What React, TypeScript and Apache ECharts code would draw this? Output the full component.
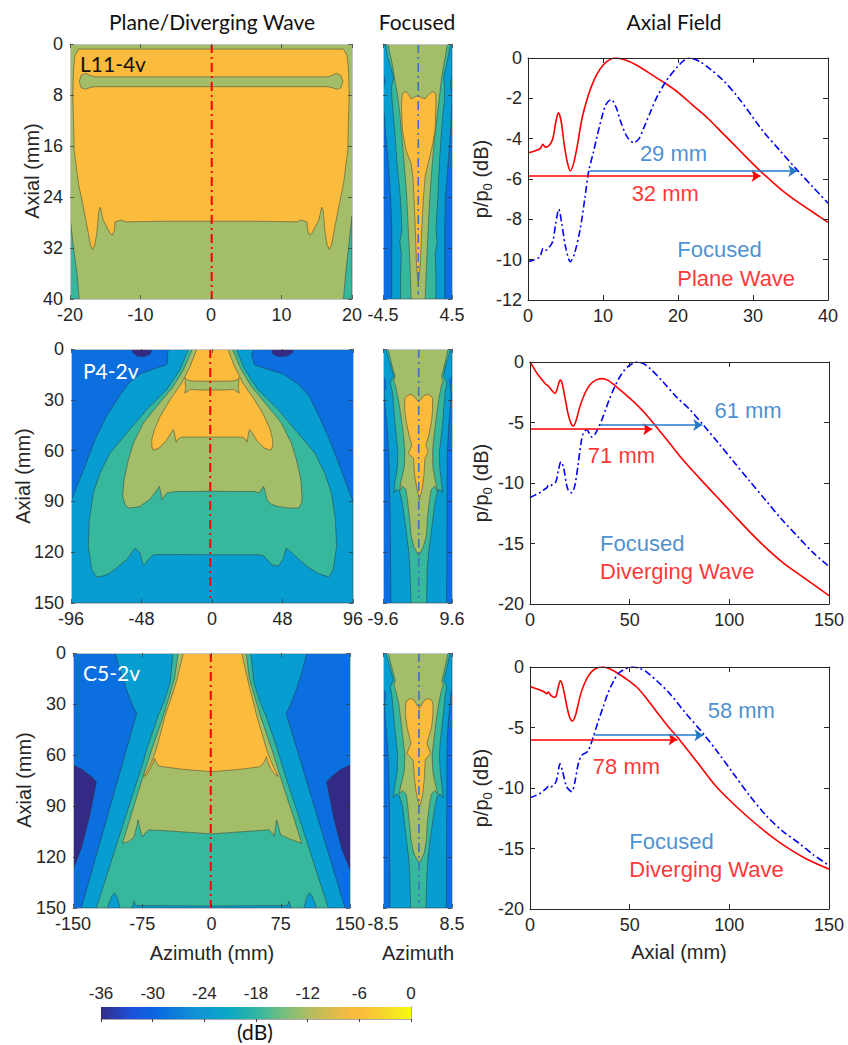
import React, { useEffect, useRef } from 'react';
import * as echarts from 'echarts';

// ---------------- colours of the filled contour levels ----------------
const C_NAVY = '#332a86';
const C_BLUE = '#0b6fe0';
const C_LBLUE = '#089dd0';
const C_TEAL = '#37b89d';
const C_OLIVE = '#a4bd69';
const C_ORANGE = '#fbbb3c';

// ---------------- row 1 : L11-4v plane wave (azimuth -20..20, axial 0..40) ----------------
const l11TealLeft = [[-20, 27], [-19.5, 32], [-19, 36], [-18.7, 40], [-20, 40]];
const l11TealRight = [[20, 27], [19.5, 32], [19.1, 36], [18.8, 40], [20, 40]];
const l11Orange = [
  [-18.8, 0.8], [18.8, 0.8], [19.3, 1.8], [19.5, 4], [19.6, 8], [19.5, 12], [19.4, 16.7], [18.8, 21.9],
  [18.1, 25.6], [17.4, 29.7], [17.1, 31.5], [16.8, 32.2], [16.5, 31.6], [16.2, 29.7], [15.9, 26.1], [15.7, 25.6],
  [15.3, 27.6], [14.3, 29.7], [14, 30], [13.7, 29.2], [13.6, 27.9], [12.7, 27.6], [12.2, 27.9], [6, 27.8],
  [0, 27.8], [-6, 27.8], [-12.2, 27.9], [-12.7, 27.6], [-13.6, 27.9], [-13.7, 29.2], [-14, 30], [-14.3, 29.7],
  [-15.3, 27.6], [-15.7, 25.6], [-15.9, 26.1], [-16.2, 29.7], [-16.5, 31.6], [-16.8, 32.2], [-17.1, 31.5],
  [-17.4, 29.7], [-18.1, 25.6], [-18.8, 21.9], [-19.4, 16.7], [-19.5, 12], [-19.6, 8], [-19.5, 4], [-19.3, 1.8]
];
const l11Band = [
  [-18.7, 5.9], [-18.4, 4.9], [-17.8, 4.6], [-17.2, 4.9], [-16.6, 5.15], [16.6, 5.15], [17.2, 4.9], [17.8, 4.6],
  [18.4, 4.9], [18.7, 5.9], [18.4, 6.9], [17.8, 7.1], [17.2, 6.85], [16.6, 6.7], [-16.6, 6.7], [-17.2, 6.85],
  [-17.8, 7.1], [-18.4, 6.9]
];

// ---------------- row 1 : L11-4v focused (azimuth -4.5..4.5) ----------------
const fL11LBlue = [
  [-4.5, 0], [4.5, 0], [4.5, 5], [4.3, 6.5], [4.5, 8], [4.35, 13], [4.0, 18.75], [3.65, 24], [3.55, 29], [3.55, 40],
  [-3.35, 40], [-3.35, 29], [-3.5, 24], [-3.8, 18.75], [-4.2, 13.5], [-4.4, 10], [-4.5, 7.1], [-4.2, 5.8], [-4.5, 4.6]
];
const fL11Teal = [
  [-4.2, 0], [-3.9, 2], [-3.5, 3.6], [-3.1, 5.2], [-3.4, 6.8], [-3.3, 9], [-3.15, 11], [-2.95, 14], [-2.66, 18.75],
  [-2.4, 22], [-2.25, 24], [-2.1, 27], [-2.05, 29.2], [-2.3, 31], [-2.1, 33], [-2.2, 36], [-2.2, 40],
  [2.4, 40], [2.4, 36], [2.3, 33], [2.55, 31], [2.4, 29.2], [2.5, 27], [2.65, 24], [2.85, 18.75], [3.1, 14],
  [3.3, 11], [3.5, 9], [3.55, 6.8], [3.4, 5.2], [3.7, 3.6], [4.0, 2], [4.3, 0]
];
const fL11Olive = [
  [-3.85, 0], [-3.6, 1.5], [-3.3, 3.1], [-2.95, 5.7], [-2.6, 8], [-2.3, 10.9], [-2.05, 14.5], [-1.74, 18.75],
  [-1.4, 24], [-1.2, 29.2], [-1.0, 34], [-0.83, 40], [1.0, 40], [1.2, 34], [1.38, 29.2], [1.6, 24], [1.93, 18.75],
  [2.25, 14.5], [2.6, 10.9], [2.9, 8], [3.1, 5.7], [3.45, 3.1], [3.7, 1.5], [3.9, 0]
];
const fL11Orange = [
  [-1.97, 7.8], [-1.52, 7.45], [-1.1, 8.0], [-0.83, 8.6], [-0.4, 8.3], [0.09, 8.1], [0.5, 8.4], [1.0, 8.6],
  [1.4, 8.0], [1.93, 7.45], [2.39, 7.8], [2.4, 9.4], [2.3, 13.5], [1.93, 16], [1.38, 18.75], [1.0, 20.8],
  [0.78, 24], [0.55, 29.2], [0.37, 34.4], [0.09, 37.8], [-0.14, 34.4], [-0.28, 29.2], [-0.46, 24], [-0.6, 20.8],
  [-0.83, 18.75], [-1.5, 16.7], [-1.97, 13.5], [-2.1, 9.4]
];

// ---------------- row 2 : P4-2v diverging wave (azimuth -96..96, axial 0..150) ----------------
const p4NavyLeft = [[-54.7, 0], [-54, 2], [-51, 4.2], [-46, 4.5], [-42, 3], [-41, 0]];
const p4NavyRight = [[40.6, 0], [41.5, 3], [45, 4.5], [51, 4.2], [54.5, 2.5], [55.3, 0]];
const p4LBlue = [
  [-29.5, 0], [-30.5, 3.5], [-30, 6.5], [-31, 9.5], [-40, 11.8], [-49, 14.8], [-56, 19.7], [-63, 27.6], [-72, 40],
  [-79.6, 53.5], [-86.5, 69.3], [-92, 81], [-96, 90], [-96, 150], [96, 150], [96, 90], [92, 81], [87, 69.3],
  [80, 53.5], [73, 40], [66, 27.6], [59, 21], [48.5, 14.8], [37.5, 11.8], [29, 9.5], [28, 6.5], [27, 3.5], [28, 0]
];
const p4Teal = [
  [-16, 0], [-21.7, 12.2], [-30.8, 24], [-44.4, 35.8], [-58, 49.6], [-69.4, 61.4], [-76.2, 73.2], [-80.8, 85],
  [-83.5, 100.8], [-84.2, 116.5], [-81.9, 130.3], [-78.5, 134.6], [-74, 134], [-69.4, 132.3], [-58, 124.4],
  [-52.4, 117.5], [-49, 120.5], [-46.7, 128.3], [-43.3, 124.4], [-39.9, 121.5], [-30, 121.3], [0, 121.5],
  [30.5, 121.5], [35, 122], [40.8, 127.4], [45.3, 128.3], [48.7, 123.4], [50.5, 117.5], [54.4, 120.5],
  [64.6, 128.3], [72, 132.5], [79.4, 134.6], [82.5, 130.3], [84.8, 116.5], [84, 100.8], [81.3, 85], [76.7, 73.2],
  [70, 61.4], [58.5, 49.6], [45, 35.8], [31.3, 24], [22.2, 12.2], [16.5, 0]
];
const p4Olive = [
  [-13.3, 0], [-19.4, 12.2], [-26.2, 22], [-37.6, 33.9], [-46.7, 43.7], [-53.5, 55.5], [-56.9, 65.4],
  [-59.9, 77.2], [-60.8, 87], [-59.2, 91.9], [-56.9, 93.9], [-52, 93.5], [-49, 92.9], [-42, 88.5], [-36.5, 82],
  [-35.8, 81.1], [-34.8, 85], [-34.2, 89], [-32.5, 87], [-30.8, 85], [-25, 84.2], [0, 84], [25, 84.2], [28.3, 84],
  [32, 85], [35.1, 81.1], [36.2, 84], [37.4, 89], [40, 91.5], [44.2, 92.9], [52, 93.9], [59, 93.9], [61, 91],
  [61.3, 87], [60.5, 77.2], [57.5, 65.4], [54, 55.5], [47.2, 43.7], [38.1, 33.9], [26.7, 22], [19.9, 12.2], [13.8, 0]
];
const p4Orange = [
  [-10.3, 0], [-14.9, 10.2], [-20.6, 20.1], [-28.5, 29.9], [-35.3, 39.8], [-39.2, 47.6], [-41, 53.5], [-41, 57.5],
  [-39.9, 59.8], [-36, 58.5], [-31, 54], [-27.5, 49], [-26.3, 47.6], [-25.5, 50], [-24.8, 53.5], [-24.4, 55],
  [-23.5, 53.5], [-21.5, 52.2], [-20, 52], [0, 52], [19.5, 52], [21, 52.2], [23, 53.5], [23.8, 55], [24.2, 53.5],
  [24.8, 50], [25.6, 47.6], [27, 49], [30.5, 54], [35.5, 58.5], [40.1, 59.8], [41.3, 57.5], [41.3, 53.5],
  [39.6, 47.6], [35.7, 39.8], [28.9, 29.9], [21, 20.1], [15.3, 10.2], [10.7, 0]
];
const p4Band = [
  [-18.4, 16.9], [-17, 18.2], [-15, 18.8], [-10, 19], [10, 19], [15, 18.8], [17, 18.2], [18.4, 16.9], [18.2, 20],
  [17.8, 22.5], [18.5, 26], [16.5, 25], [14.5, 23.8], [10, 24.2], [-10, 24.2], [-14.5, 23.8], [-16.5, 25],
  [-18.5, 26], [-17.8, 22.5], [-18.2, 20]
];

// ---------------- row 2 : P4-2v focused (azimuth -9.6..9.6) ----------------
const fP4LBlue = [
  [-9.6, 0], [9.6, 0], [9.6, 16], [9.0, 18.5], [9.0, 23], [9.4, 26], [9.1, 35], [8.7, 45], [8.3, 60.7], [8.25, 80],
  [8.2, 100], [8.15, 120], [8.1, 150], [-7.4, 150], [-7.5, 120], [-7.6, 100], [-7.8, 80], [-8.0, 60.7], [-8.5, 45],
  [-9.0, 35], [-9.3, 26], [-8.9, 23], [-8.9, 18.5], [-9.6, 16]
];
const fP4Teal = [
  [-8.8, 0], [-8.0, 6], [-7.2, 11.4], [-6.6, 16], [-7.6, 20], [-7.0, 25], [-6.7, 32], [-6.4, 41], [-5.9, 51],
  [-5.45, 60.7], [-5.6, 70], [-6.2, 78], [-6.6, 85], [-6.0, 83], [-5.0, 84], [-4.3, 90], [-3.6, 100], [-3.0, 110],
  [-2.4, 120], [-2.1, 130], [-1.8, 150], [2.5, 150], [2.7, 130], [3.1, 120], [3.7, 110], [4.3, 100], [4.9, 90],
  [5.6, 84], [6.3, 83], [7.0, 85], [6.6, 78], [6.2, 70], [6.1, 60.7], [6.6, 51], [7.1, 41], [7.4, 32], [7.7, 25],
  [8.2, 20], [7.3, 16], [7.6, 11.4], [8.4, 6], [9.2, 0]
];
const fP4Olive = [
  [-8.2, 0], [-7.5, 6], [-6.9, 11.4], [-6.2, 16], [-6.6, 19], [-6.1, 22], [-5.3, 30], [-4.5, 41], [-3.9, 51],
  [-3.5, 60.7], [-3.7, 70], [-4.6, 78], [-5.0, 84], [-4.2, 81], [-3.2, 83], [-2.75, 90], [-2.2, 100], [-1.8, 110],
  [-1.0, 117], [0.34, 122], [1.6, 117], [2.5, 110], [2.75, 100], [3.3, 90], [3.8, 83], [4.8, 81], [5.6, 84],
  [5.0, 78], [4.3, 70], [4.2, 60.7], [4.6, 51], [5.2, 41], [5.9, 30], [6.6, 22], [7.1, 19], [6.7, 16], [7.3, 11.4],
  [7.9, 6], [8.5, 0]
];
const fP4Orange = [
  [-3.5, 29.2], [-2.8, 27.5], [-2.07, 26.8], [-1.2, 27.5], [0.34, 31.1], [1.8, 27.5], [2.75, 26.8], [3.6, 27.5],
  [4.2, 29.2], [4.2, 35], [4.0, 41], [3.2, 50.8], [2.3, 56.8], [3.0, 60.7], [2.07, 64.6], [1.8, 74.5], [1.3, 82.4],
  [0.53, 89.3], [-0.15, 82.4], [-0.82, 74.5], [-1.1, 64.6], [-2.56, 61.7], [-1.6, 56.8], [-2.36, 50.8],
  [-3.3, 41], [-3.6, 35]
];

// ---------------- row 3 : C5-2v diverging wave (azimuth -150..150, axial 0..150) ----------------
const c5NavyLeft = [[-150, 65.9], [-139.2, 68.8], [-130.1, 72.8], [-124.7, 75.7], [-132, 96], [-141, 115], [-150, 127.5]];
const c5NavyRight = [[150, 65.9], [139.2, 68.8], [130.1, 72.8], [124.7, 75.7], [132, 96], [141, 115], [150, 127.5]];
const c5LBlue = [
  [-104.5, 0], [-99, 10.2], [-91.8, 21.9], [-84.7, 31.8], [-81, 35.5], [-141, 150], [144.6, 150], [80.8, 35.5],
  [84.5, 31.8], [91.5, 21.9], [98.5, 10.2], [103.2, 0]
];
const c5Teal = [
  [-41.6, 0], [-44.9, 17.6], [-51, 28], [-57.9, 37], [-70.2, 57], [-75.6, 67], [-100, 108], [-124.7, 150],
  [-113, 150], [-108, 143], [-105, 141], [-102, 144], [-99, 150], [-86, 150], [-84, 146], [-82, 148.6], [0, 148.8],
  [82, 148.6], [84, 146], [86, 150], [100, 150], [103, 144], [106, 141], [109, 143], [114, 150], [126.5, 150],
  [101.5, 108], [77, 67], [71.5, 57], [59, 37], [52, 28], [46, 17.6], [42.5, 0]
];
const c5Olive = [
  [-36, 0], [-40, 15], [-46, 26], [-52.2, 37], [-64.8, 57], [-72, 69], [-80, 83], [-88, 97], [-96.5, 111.9],
  [-90, 111], [-84, 108.5], [-80.5, 101], [-79.5, 98.2], [-78, 102], [-76, 106.5], [-74.1, 108], [-72, 106],
  [-68, 104], [-50, 104.5], [0, 106.4], [50, 104.5], [62, 104], [66, 106], [68, 108], [69.5, 102], [70.5, 98.2],
  [72, 101], [75, 107], [85, 109.5], [97.6, 111.9], [88.6, 96], [80.5, 83], [72.5, 69], [65.5, 57], [53, 37],
  [47, 26], [41, 15], [37.5, 0]
];
const c5Orange = [
  [-30.5, 0], [-34, 8], [-38.4, 17.6], [-44, 27], [-50.3, 37], [-55, 47], [-60.1, 57], [-64, 63], [-68, 68],
  [-73.4, 72.7], [-70, 71.5], [-66, 68], [-62.5, 63.5], [-61.5, 62], [-60, 64], [-57, 66.5], [-52.4, 66.9],
  [-30, 68.5], [0, 69.8], [30, 68.5], [52.4, 66.9], [56, 65], [58.5, 62.5], [59.6, 61], [61, 64], [64, 68],
  [68, 71], [72.3, 72.7], [68, 68], [64, 63], [59.8, 57], [54.5, 47], [49, 37], [44.5, 27], [40, 17.6], [36, 8],
  [32.8, 0]
];

// ---------------- row 3 : C5-2v focused (azimuth -8.5..8.5) ----------------
const fC5LBlue = [
  [-8.5, 0], [8.5, 0], [8.5, 21], [8.2, 23.5], [8.2, 27], [8.0, 30], [7.6, 40], [7.3, 51], [7.25, 65], [7.2, 90],
  [7.15, 120], [7.1, 150], [-6.8, 150], [-6.85, 120], [-6.9, 90], [-7.1, 65], [-7.5, 51], [-7.9, 40], [-8.2, 30],
  [-7.9, 27], [-7.9, 23.5], [-8.5, 21]
];
const fC5Teal = [
  [-7.8, 0], [-7.1, 6], [-6.4, 11.5], [-5.9, 16], [-6.7, 20], [-6.3, 25], [-6.0, 33], [-5.7, 41.5], [-5.2, 52],
  [-4.9, 60], [-5.0, 70], [-5.6, 78], [-6.0, 85], [-5.3, 83], [-4.5, 84], [-3.7, 90], [-3.2, 100], [-2.7, 110],
  [-2.2, 120], [-1.9, 130], [-1.7, 150], [2.1, 150], [2.3, 130], [2.6, 120], [3.1, 110], [3.7, 100], [4.3, 90],
  [4.9, 84], [5.6, 83], [6.3, 85], [6.0, 78], [5.6, 70], [5.4, 60], [5.6, 52], [6.1, 41.5], [6.5, 33], [6.8, 25],
  [7.2, 20], [6.5, 16], [6.9, 11.5], [7.5, 6], [8.0, 0]
];
const fC5Olive = [
  [-7.2, 0], [-6.6, 6], [-6.0, 11.5], [-5.5, 16], [-5.8, 19], [-5.4, 22], [-4.6, 30], [-4.0, 41.5], [-3.5, 52],
  [-3.1, 60], [-3.3, 70], [-4.1, 78], [-4.5, 83], [-3.7, 81], [-2.8, 83], [-2.4, 90], [-2.0, 100], [-1.6, 110],
  [-0.9, 118], [0.43, 123.6], [1.6, 118], [2.2, 110], [2.4, 100], [2.9, 90], [3.4, 83], [4.3, 81], [5.0, 83],
  [4.5, 78], [3.8, 70], [3.6, 60], [4.0, 52], [4.5, 41.5], [5.2, 30], [5.9, 22], [6.3, 19], [6.0, 16], [6.5, 11.5],
  [7.0, 6], [7.5, 0]
];
const fC5Orange = [
  [-2.9, 29.7], [-2.4, 27.5], [-1.7, 26.8], [-0.9, 27.5], [0.43, 32.7], [1.8, 27.5], [2.8, 26.8], [3.4, 27.5],
  [3.8, 29.7], [3.8, 36], [3.5, 43.4], [2.3, 53.2], [3.2, 59], [1.9, 63], [1.65, 74.7], [1.2, 84.5], [0.52, 90.4],
  [-0.17, 84.5], [-0.7, 74.7], [-1.1, 63], [-2.6, 59], [-1.6, 53.2], [-2.6, 43.4], [-3.0, 36]
];

// ---------------- centre lines (azimuth, axial) ----------------
const l11CenterLine = [[0.1, 0], [0.1, 40]];
const p4CenterLine = [[-1.2, 0], [-1.2, 147]];
const c5CenterLine = [[-0.8, 0], [-0.8, 150]];
const fL11CenterLine = [[0.1, 0], [0.1, 39.3]];
const fP4CenterLine = [[0.34, 0], [0.34, 147]];
const fC5CenterLine = [[0.35, 0], [0.35, 147]];

// ---------------- axial field curves (axial mm, dB) ----------------
const l11Plane = [
  [0, -4.7], [0.8, -4.62], [1.6, -4.5], [2.0, -4.28], [2.3, -4.42], [2.8, -4.35], [3.3, -4.0], [3.7, -3.2],
  [4.05, -2.72], [4.4, -3.1], [4.8, -4.2], [5.2, -5.1], [5.65, -5.6], [6.1, -5.2], [6.6, -4.3], [7.2, -3.0],
  [8, -1.9], [8.8, -1.1], [9.6, -0.55], [10.5, -0.18], [11.6, 0], [12.8, -0.08], [14.5, -0.36], [17, -0.95],
  [18.5, -1.3], [20, -1.7], [22, -2.35], [24, -3.0], [26, -3.75], [28, -4.5], [30, -5.25], [31, -5.62],
  [32, -5.95], [34, -6.6], [36, -7.15], [38, -7.65], [40, -8.15]
];
const l11Focused = [
  [0, -10.1], [0.8, -10.0], [1.6, -9.85], [2.0, -9.45], [2.3, -9.55], [2.8, -9.4], [3.3, -9.1], [3.7, -8.2],
  [4.1, -7.5], [4.5, -8.2], [5.0, -9.35], [5.65, -10.1], [6.2, -9.7], [7.0, -8.4], [7.6, -6.9], [8.1, -5.6],
  [8.7, -4.7], [9.2, -3.9], [9.8, -3.0], [10.4, -2.3], [11.1, -2.06], [11.8, -2.5], [12.3, -3.1], [13.2, -3.9],
  [14.1, -4.2], [14.8, -4.0], [15.4, -3.5], [16.3, -2.7], [17.2, -1.93], [18.5, -1.1], [19.9, -0.45], [20.8, -0.12],
  [21.6, 0], [23, -0.2], [24.3, -0.55], [26, -1.1], [27.9, -1.9], [30, -2.95], [31.4, -3.66], [33.5, -4.55],
  [35.9, -5.56], [38, -6.4], [40, -7.2]
];
const p4Diverging = [
  [0, 0], [1.5, -0.4], [3, -0.8], [4.2, -1.1], [6, -1.45], [8, -1.85], [9, -1.95], [10, -2.15], [11.5, -2.45],
  [12.5, -2.6], [13.5, -2.3], [14.5, -1.7], [15.2, -1.5], [16, -1.7], [17.5, -2.9], [19, -4.2], [20.5, -5.05],
  [21.7, -5.3], [23, -4.9], [25, -3.7], [27.5, -2.6], [30, -1.9], [33, -1.5], [35.9, -1.37], [39, -1.5],
  [43.4, -2.06], [48, -2.7], [53.4, -3.5], [58, -4.3], [62.6, -5.2], [70, -6.7], [76.8, -8.1], [85, -9.6],
  [93.5, -11.1], [102, -12.6], [110, -14.0], [118, -15.3], [127, -16.6], [138, -17.9], [150, -19.3]
];
const p4Focused = [
  [0, -11.2], [2.5, -11.0], [5, -10.8], [7, -10.55], [8.4, -10.4], [9.2, -10.2], [10, -10.25], [11.5, -10.1],
  [13, -9.9], [14.2, -9.0], [15.5, -8.24], [16.8, -8.7], [18.4, -10.2], [19.5, -10.7], [20.9, -10.8], [22.5, -10.2],
  [24.2, -8.4], [25.5, -6.8], [26.7, -5.9], [28.4, -5.6], [29.8, -5.9], [30.9, -6.2], [32.5, -6.0], [34.2, -5.45],
  [36, -4.8], [38, -3.9], [40, -3.0], [42.5, -2.05], [45, -1.24], [47.5, -0.65], [50, -0.27], [53.8, 0],
  [57, -0.15], [60, -0.5], [66.5, -1.6], [73.5, -2.9], [80, -3.9], [86.9, -5.2], [94, -6.6], [102, -8.2],
  [110, -9.8], [118.6, -11.5], [126, -12.95], [135.3, -14.6], [142, -15.75], [150, -16.9]
];
const c5Diverging = [
  [0, -1.6], [2.5, -1.75], [5, -1.9], [7, -2.05], [8.4, -2.2], [9.2, -2.06], [10, -2.25], [10.9, -2.4],
  [12, -2.5], [13, -2.45], [14, -1.8], [15.2, -1.15], [16.3, -1.5], [17.5, -2.4], [18.7, -3.4], [20, -4.2],
  [21.4, -4.46], [22.8, -4.0], [24, -3.2], [25.5, -2.2], [27.5, -1.3], [30, -0.55], [33, -0.12], [36.7, 0],
  [40, -0.15], [43.4, -0.45], [48, -0.95], [53.5, -1.65], [58, -2.5], [63.5, -3.7], [69, -4.85], [75.2, -6.05],
  [84, -7.9], [93.5, -9.9], [102, -11.3], [110, -12.5], [118, -13.6], [127, -14.7], [138, -15.8], [150, -16.7]
];
const c5Focused = [
  [0, -10.8], [2.5, -10.65], [5, -10.45], [7, -10.2], [8.4, -10.0], [9.2, -9.85], [10, -9.95], [11.5, -9.8],
  [13, -9.5], [14, -8.8], [15, -8.0], [16.3, -8.6], [18.4, -9.9], [20.9, -10.3], [22.5, -9.5], [24.2, -8.0],
  [25.5, -7.4], [26.7, -7.2], [28, -7.1], [29.2, -6.9], [30.5, -6.4], [31.7, -5.8], [34, -4.6], [36.7, -3.3],
  [39, -2.2], [41.8, -1.2], [44, -0.6], [46.8, -0.25], [51.4, 0], [55, -0.12], [58.4, -0.4], [64, -1.2],
  [70.1, -2.2], [78, -3.8], [86.9, -5.5], [94, -7.0], [102, -8.8], [110, -10.6], [118.6, -12.3], [127, -13.6],
  [135.3, -14.6], [142, -15.5], [150, -16.4]
];

// -6 dB depth-of-field arrows: [start, end]
const l11PlaneArrow = [[0, -5.85], [31, -5.85]];
const l11FocusedArrow = [[8.2, -5.6], [35.9, -5.6]];
const p4DivArrow = [[0, -5.55], [61.3, -5.55]];
const p4FocusedArrow = [[35, -5.2], [86.4, -5.2]];
const c5DivArrow = [[0, -6.0], [74, -6.0]];
const c5FocusedArrow = [[32, -5.64], [87, -5.64]];

// annotation anchors
const l11Notes = { focusedLen: [19.4, -4.74], planeLen: [18.3, -6.72], focused: [19.9, -9.52], plane: [19.9, -10.92] };
const p4Notes = { focusedLen: [109.4, -3.98], planeLen: [45.9, -7.7], focused: [35.1, -15.0], plane: [35.1, -17.3] };
const c5Notes = { focusedLen: [106, -3.58], planeLen: [48.4, -8.2], focused: [49.8, -14.4], plane: [49.8, -16.7] };

// ---------------- colour bar ----------------
const cbTicks = [-36, -30, -24, -18, -12, -6, 0];
const parulaStops = [
  [0.0, '#352a87'], [0.1, '#1d52dc'], [0.18, '#0868e0'], [0.3, '#1290d6'], [0.4, '#08a6c8'], [0.5, '#2fb6a4'],
  [0.6, '#7dbf7a'], [0.7, '#c3bc58'], [0.8, '#f4bb40'], [0.85, '#fcbf3a'], [0.92, '#f4d92a'], [1.0, '#f8fa0f']
];

// ---------------- layout ----------------
const FONT = 'Liberation Sans, Arial, Helvetica, sans-serif';
const TFONT = 'Lato, Open Sans, sans-serif';
const INK = '#262626';
const RED = '#ff0000';
const BLUE_LINE = '#0000ff';
const BLUE_TEXT = '#1a74c4';

const gridBoxes = [
  { left: 70, top: 44, width: 282, height: 255 },
  { left: 383, top: 44, width: 69, height: 255 },
  { left: 528, top: 58, width: 300, height: 242 },
  { left: 71, top: 349, width: 282, height: 254 },
  { left: 383, top: 349, width: 69, height: 254 },
  { left: 530, top: 362, width: 299, height: 242 },
  { left: 73, top: 653, width: 277, height: 255 },
  { left: 383, top: 653, width: 69, height: 255 },
  { left: 530, top: 667, width: 299, height: 242 },
  { left: 101, top: 1007, width: 310, height: 12 }
];

function buildOption() {
  const xAxis: any[] = [];
  const yAxis: any[] = [];
  const series: any[] = [];

  const mkAxis = (g: number, cfg: any, pos: string, main: boolean, style: string) => {
    const isLine = style === 'line';
    return {
      gridIndex: g,
      type: 'value',
      position: pos,
      min: cfg.min,
      max: cfg.max,
      interval: cfg.interval,
      inverse: !!cfg.inverse,
      z: 6,
      axisLine: { show: true, onZero: false, lineStyle: { color: isLine ? INK : '#c4c4c4', width: 1 } },
      axisTick: {
        show: cfg.ticks !== false,
        inside: true,
        length: isLine ? 5 : 4,
        lineStyle: { color: isLine ? INK : 'rgba(50,50,50,0.7)', width: 1 }
      },
      axisLabel: {
        show: main && cfg.labels !== false,
        color: INK,
        fontSize: cfg.fontSize || 18,
        fontFamily: FONT,
        margin: cfg.margin || 7,
        showMinLabel: true,
        showMaxLabel: true
      },
      splitLine: { show: false }
    };
  };
  const addAxes = (g: number, xc: any, yc: any, style: string) => {
    xAxis.push(mkAxis(g, xc, 'bottom', true, style));
    xAxis.push(mkAxis(g, { ...xc, labels: false }, 'top', false, style));
    yAxis.push(mkAxis(g, yc, 'left', true, style));
    yAxis.push(mkAxis(g, { ...yc, labels: false }, 'right', false, style));
  };

  addAxes(0, { min: -20, max: 20, interval: 10 }, { min: 0, max: 40, interval: 8, inverse: true }, 'contour');
  addAxes(1, { min: -4.5, max: 4.5, interval: 9 }, { min: 0, max: 40, interval: 8, inverse: true, labels: false }, 'contour');
  addAxes(2, { min: 0, max: 40, interval: 10 }, { min: -12, max: 0, interval: 2, margin: 6 }, 'line');
  addAxes(3, { min: -96, max: 96, interval: 48 }, { min: 0, max: 150, interval: 30, inverse: true }, 'contour');
  addAxes(4, { min: -9.6, max: 9.6, interval: 19.2 }, { min: 0, max: 150, interval: 30, inverse: true, labels: false }, 'contour');
  addAxes(5, { min: 0, max: 150, interval: 50 }, { min: -20, max: 0, interval: 5, margin: 6 }, 'line');
  addAxes(6, { min: -150, max: 150, interval: 75 }, { min: 0, max: 150, interval: 30, inverse: true }, 'contour');
  addAxes(7, { min: -8.5, max: 8.5, interval: 17 }, { min: 0, max: 150, interval: 30, inverse: true, labels: false }, 'contour');
  addAxes(8, { min: 0, max: 150, interval: 50 }, { min: -20, max: 0, interval: 5, margin: 6 }, 'line');
  // colour bar axes
  xAxis.push({
    ...mkAxis(9, { min: cbTicks[0], max: cbTicks[cbTicks.length - 1], interval: 6, fontSize: 17, margin: 5 }, 'top', true, 'contour'),
    axisTick: { show: true, inside: true, length: 3, lineStyle: { color: '#444', width: 1 } },
    axisLine: { show: true, lineStyle: { color: '#a8a8a8', width: 1 } }
  });
  xAxis.push({
    ...mkAxis(9, { min: cbTicks[0], max: cbTicks[cbTicks.length - 1], interval: 6, labels: false, ticks: false }, 'bottom', false, 'contour'),
    axisLine: { show: true, lineStyle: { color: '#a8a8a8', width: 1 } }
  });
  yAxis.push({ gridIndex: 9, type: 'value', min: 0, max: 1, show: true, axisLine: { show: true, lineStyle: { color: '#a8a8a8' } }, axisTick: { show: false }, axisLabel: { show: false }, splitLine: { show: false }, z: 6 });
  yAxis.push({ gridIndex: 9, type: 'value', min: 0, max: 1, position: 'right', show: true, axisLine: { show: true, lineStyle: { color: '#a8a8a8' } }, axisTick: { show: false }, axisLabel: { show: false }, splitLine: { show: false }, z: 6 });

  // -------- contour polygons --------
  const poly = (g: number, pts: number[][], fill: string, edge = true) => ({
    type: 'custom',
    xAxisIndex: g * 2,
    yAxisIndex: g * 2,
    coordinateSystem: 'cartesian2d',
    clip: true,
    silent: true,
    data: pts,
    encode: { x: 0, y: 1 },
    renderItem: (params: any, api: any) => {
      if (params.dataIndex !== 0) return null;
      const points = pts.map((p) => api.coord(p));
      return {
        type: 'polygon',
        shape: { points },
        style: { fill, stroke: edge ? 'rgba(45,45,45,0.75)' : 'none', lineWidth: 0.6 }
      };
    }
  });
  const bgRect = (g: number, x0: number, x1: number, y0: number, y1: number, fill: string) =>
    poly(g, [[x0, y0], [x1, y0], [x1, y1], [x0, y1]], fill, false);

  const contourPanels: any[] = [
    [0, [-20, 20, 0, 40], C_OLIVE, [[l11TealLeft, C_TEAL], [l11TealRight, C_TEAL], [l11Orange, C_ORANGE], [l11Band, C_OLIVE]]],
    [1, [-4.5, 4.5, 0, 40], C_BLUE, [[fL11LBlue, C_LBLUE], [fL11Teal, C_TEAL], [fL11Olive, C_OLIVE], [fL11Orange, C_ORANGE]]],
    [3, [-96, 96, 0, 150], C_BLUE, [[p4NavyLeft, C_NAVY], [p4NavyRight, C_NAVY], [p4LBlue, C_LBLUE], [p4Teal, C_TEAL], [p4Olive, C_OLIVE], [p4Orange, C_ORANGE], [p4Band, C_OLIVE]]],
    [4, [-9.6, 9.6, 0, 150], C_BLUE, [[fP4LBlue, C_LBLUE], [fP4Teal, C_TEAL], [fP4Olive, C_OLIVE], [fP4Orange, C_ORANGE]]],
    [6, [-150, 150, 0, 150], C_BLUE, [[c5NavyLeft, C_NAVY], [c5NavyRight, C_NAVY], [c5LBlue, C_LBLUE], [c5Teal, C_TEAL], [c5Olive, C_OLIVE], [c5Orange, C_ORANGE]]],
    [7, [-8.5, 8.5, 0, 150], C_BLUE, [[fC5LBlue, C_LBLUE], [fC5Teal, C_TEAL], [fC5Olive, C_OLIVE], [fC5Orange, C_ORANGE]]]
  ];
  contourPanels.forEach(([g, ext, bg, layers]) => {
    series.push(bgRect(g, ext[0], ext[1], ext[2], ext[3], bg));
    layers.forEach(([pts, col]: any) => series.push(poly(g, pts, col)));
  });

  const vline = (g: number, pts: number[][], color: string, width: number) => ({
    type: 'line', xAxisIndex: g * 2, yAxisIndex: g * 2, data: pts, symbol: 'none', silent: true, z: 4,
    lineStyle: { color, width, type: [9, 4, 2, 4] }
  });
  series.push(vline(0, l11CenterLine, RED, 2));
  series.push(vline(3, p4CenterLine, RED, 2));
  series.push(vline(6, c5CenterLine, RED, 2));
  series.push(vline(1, fL11CenterLine, '#3d6fcc', 1.6));
  series.push(vline(4, fP4CenterLine, '#3d6fcc', 1.6));
  series.push(vline(7, fC5CenterLine, '#3d6fcc', 1.6));

  // -------- axial field plots --------
  const arrow = (seg: number[][], color: string) => ({
    silent: true,
    symbol: ['none', 'arrow'],
    symbolSize: 9,
    label: { show: false },
    lineStyle: { color, width: 1.6, type: 'solid' },
    data: [[{ coord: seg[0] }, { coord: seg[1] }]]
  });
  const note = (g: number, pt: number[], text: string, color: string, left: boolean) => ({
    type: 'scatter', xAxisIndex: g * 2, yAxisIndex: g * 2, data: [pt], symbolSize: 0.1, silent: true, z: 7,
    itemStyle: { color: 'rgba(0,0,0,0)' },
    label: { show: true, formatter: text, position: left ? 'right' : 'inside', distance: 0, color, fontSize: 22, fontFamily: FONT }
  });
  const fieldPlots: any[] = [
    [2, l11Plane, l11Focused, l11PlaneArrow, l11FocusedArrow, l11Notes, 'Plane Wave', '29 mm', '32 mm'],
    [5, p4Diverging, p4Focused, p4DivArrow, p4FocusedArrow, p4Notes, 'Diverging Wave', '61 mm', '71 mm'],
    [8, c5Diverging, c5Focused, c5DivArrow, c5FocusedArrow, c5Notes, 'Diverging Wave', '58 mm', '78 mm']
  ];
  fieldPlots.forEach(([g, red, blue, redArrow, blueArrow, notes, redName, blueLen, redLen]) => {
    series.push({
      type: 'line', xAxisIndex: g * 2, yAxisIndex: g * 2, data: red, symbol: 'none', smooth: 0.3, z: 3,
      lineStyle: { color: RED, width: 1.6 }, markLine: arrow(redArrow, RED)
    });
    series.push({
      type: 'line', xAxisIndex: g * 2, yAxisIndex: g * 2, data: blue, symbol: 'none', smooth: 0.3, z: 3,
      lineStyle: { color: BLUE_LINE, width: 1.6, type: [7, 3, 2, 3] }, markLine: arrow(blueArrow, '#2378c8')
    });
    series.push(note(g, notes.focusedLen, blueLen, BLUE_TEXT, false));
    series.push(note(g, notes.planeLen, redLen, RED, false));
    series.push(note(g, notes.focused, 'Focused', BLUE_TEXT, true));
    series.push(note(g, notes.plane, redName, RED, true));
  });

  // -------- colour bar --------
  series.push({
    type: 'custom', xAxisIndex: 18, yAxisIndex: 18, coordinateSystem: 'cartesian2d', silent: true,
    data: [[cbTicks[0], 0], [cbTicks[cbTicks.length - 1], 1]], encode: { x: 0, y: 1 },
    renderItem: (params: any, api: any) => {
      if (params.dataIndex !== 0) return null;
      const a = api.coord([cbTicks[0], 0]);
      const b = api.coord([cbTicks[cbTicks.length - 1], 1]);
      return {
        type: 'rect',
        shape: { x: a[0], y: b[1], width: b[0] - a[0], height: a[1] - b[1] },
        style: {
          fill: { type: 'linear', x: 0, y: 0, x2: 1, y2: 0, colorStops: parulaStops.map(([o, c]) => ({ offset: o, color: c })) }
        }
      };
    }
  });

  const txt = (text: string, x: number, y: number, size: number, color: string, family: string, align = 'center', rotation = 0, rich?: any) => ({
    type: 'text', x, y, rotation, silent: true, z: 20,
    style: {
      text, fill: color, fontSize: size, fontFamily: family, lineHeight: Math.round(size * 1.3),
      align, verticalAlign: 'middle', textAlign: align, textVerticalAlign: 'middle', rich
    }
  });
  const subRich = { sub: { fontSize: 13, fontFamily: FONT, fill: INK, verticalAlign: 'bottom', lineHeight: 26 } };
  const V = Math.PI / 2;

  return {
    animation: false,
    backgroundColor: '#ffffff',
    grid: gridBoxes.map((b) => ({ ...b, containLabel: false })),
    xAxis,
    yAxis,
    series,
    graphic: [
      txt('Plane/Diverging Wave', 212, 21, 21, '#111', TFONT),
      txt('Focused', 417, 21, 21, '#111', TFONT),
      txt('Axial Field', 674, 21, 21, '#111', TFONT),
      txt('L11-4v', 80, 63, 21, '#111', TFONT, 'left'),
      txt('P4-2v', 83, 370, 21, '#ffffff', TFONT, 'left'),
      txt('C5-2v', 83, 672, 21, '#ffffff', TFONT, 'left'),
      txt('(dB)', 255, 1031, 21, '#111', TFONT),
      // axis titles
      txt('Axial (mm)', 32, 171, 20, INK, FONT, 'center', V),
      txt('Axial (mm)', 23, 476, 20, INK, FONT, 'center', V),
      txt('Axial (mm)', 24, 780, 20, INK, FONT, 'center', V),
      txt('p/p{sub|0} (dB)', 481, 179, 20, INK, FONT, 'center', V, subRich),
      txt('p/p{sub|0} (dB)', 481, 483, 20, INK, FONT, 'center', V, subRich),
      txt('p/p{sub|0} (dB)', 481, 788, 20, INK, FONT, 'center', V, subRich),
      txt('Azimuth (mm)', 212, 953, 20, INK, FONT),
      txt('Azimuth', 418, 953, 20, INK, FONT),
      txt('Axial (mm)', 679, 952, 20, INK, FONT)
    ]
  };
}

export default function App() {
  const ref = useRef<HTMLDivElement>(null);
  useEffect(() => {
    if (!ref.current) return;
    const chart = echarts.init(ref.current, null, { renderer: 'svg' });
    chart.setOption(buildOption() as any);
    return () => chart.dispose();
  }, []);
  return (
    <div
      ref={ref}
      style={{ position: 'absolute', left: 0, top: 0, width: 848, height: 1045, background: '#fff' }}
    />
  );
}
